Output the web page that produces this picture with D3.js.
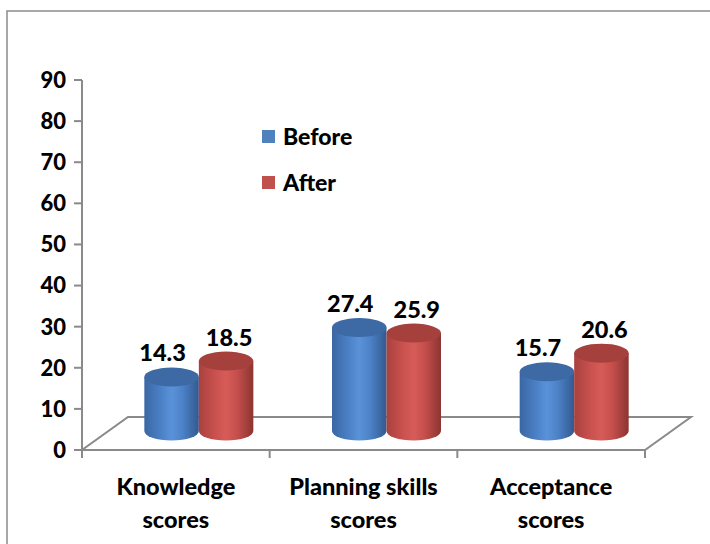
<!DOCTYPE html>
<html>
<head>
<meta charset="utf-8">
<script src="https://cdn.jsdelivr.net/npm/d3@7"></script>
<style>
  html, body { margin: 0; padding: 0; background: #fff; }
  svg { display: block; }
  text { font-family: Lato, "Open Sans", "Liberation Sans", sans-serif; font-weight: 900; fill: #000; }
</style>
</head>
<body>
<svg id="chart" width="710" height="544"></svg>
<script>
// ---- data ----
const categories = [["Knowledge", "scores"], ["Planning skills", "scores"], ["Acceptance", "scores"]];
const seriesNames = ["Before", "After"];
const beforeValues = [14.3, 27.4, 15.7];
const afterValues = [18.5, 25.9, 20.6];
const yTicks = [0, 10, 20, 30, 40, 50, 60, 70, 80, 90];

const seriesValues = [beforeValues, afterValues];
const colors = {
  Before: { stops: ["#3a67a3", "#4b80c6", "#5a92d9", "#4c82c7", "#33598f"], top: "#3d69a4", legend: "#4f81bd" },
  After:  { stops: ["#a9413e", "#c9514e", "#d65c58", "#c54f4c", "#8c3431"], top: "#a5403d", legend: "#c0504d" }
};

const svg = d3.select("#chart");
const defs = svg.append("defs");
seriesNames.forEach(s => {
  const g = defs.append("linearGradient").attr("id", "grad-" + s).attr("x1", "0%").attr("x2", "100%").attr("y1", "0%").attr("y2", "0%");
  const offs = [0, 0.3, 0.5, 0.7, 1];
  colors[s].stops.forEach((c, i) => g.append("stop").attr("offset", offs[i]).attr("stop-color", c));
});

// frame
svg.append("rect").attr("x", 7).attr("y", 11).attr("width", 740).attr("height", 580)
  .attr("fill", "none").attr("stroke", "#8c8c8c").attr("stroke-width", 1.5);

// scales
const x = d3.scaleBand().domain(d3.range(categories.length)).range([82, 645]).padding(0);
const y = d3.scaleLinear().domain([0, 90]).range([450, 80]);
const depthDx = 46, depthDy = -33;
// bars sit at mid depth, with perspective shortening
const yBar = d3.scaleLinear().domain([0, 90]).range([431, 431 - 90 * 3.78]);
const xInner = d3.scaleBand().domain(seriesNames).range([-54.5, 54.5]).padding(0);

const gridColor = "#8a8a8a";

// floor
const floor = [[x.range()[0], y(0)], [x.range()[1], y(0)], [x.range()[1] + depthDx, y(0) + depthDy], [x.range()[0] + depthDx, y(0) + depthDy]];
svg.append("path").attr("d", "M" + floor.map(p => p.join(",")).join("L") + "Z")
  .attr("fill", "#fff").attr("stroke", gridColor).attr("stroke-width", 2).attr("stroke-linejoin", "miter");

// y axis
svg.append("line").attr("x1", 82).attr("x2", 82).attr("y1", y(90)).attr("y2", y(0))
  .attr("stroke", gridColor).attr("stroke-width", 2);
const yAx = svg.append("g");
yTicks.forEach(t => {
  yAx.append("line").attr("x1", 74).attr("x2", 82).attr("y1", y(t)).attr("y2", y(t)).attr("stroke", gridColor).attr("stroke-width", 2);
  yAx.append("text").attr("x", 66).attr("y", y(t)).attr("dy", "0.36em").attr("text-anchor", "end")
    .attr("font-size", 22).text(t);
});

// x ticks
const bounds = x.domain().map(i => x(i)).concat([x.range()[1]]);
bounds.forEach(b => {
  svg.append("line").attr("x1", b).attr("x2", b).attr("y1", y(0)).attr("y2", y(0) + 8)
    .attr("stroke", gridColor).attr("stroke-width", 2);
});

// category labels
categories.forEach((lines, i) => {
  const t = svg.append("text").attr("text-anchor", "middle").attr("font-size", 23.5)
    .attr("x", x(i) + x.bandwidth() / 2).attr("y", 495);
  lines.forEach((ln, j) => t.append("tspan").attr("x", x(i) + x.bandwidth() / 2).attr("dy", j === 0 ? 0 : 33).text(ln));
});

// cylinders
const ry = 9.5;
const labelShift = { Before: -9, After: 3 };
seriesNames.forEach((s, si) => {
  seriesValues[si].forEach((v, i) => {
    const cx = x(i) + x.bandwidth() / 2 + depthDx / 2;
    const x0 = cx + xInner(s), x1 = x0 + xInner.bandwidth();
    const rx = (x1 - x0) / 2, mx = (x0 + x1) / 2;
    const yb = yBar(0), yt = yBar(v);
    svg.append("path")
      .attr("d", `M${x0},${yt} L${x0},${yb} A${rx},${ry} 0 0 0 ${x1},${yb} L${x1},${yt} Z`)
      .attr("fill", `url(#grad-${s})`);
    svg.append("ellipse").attr("cx", mx).attr("cy", yt).attr("rx", rx).attr("ry", ry)
      .attr("fill", colors[s].top);
    svg.append("text").attr("x", mx + labelShift[s]).attr("y", yt - ry - 6)
      .attr("text-anchor", "middle").attr("font-size", 23.5).text(v.toFixed(1));
  });
});

// legend
seriesNames.forEach((s, i) => {
  const ly = 130 + i * 46;
  svg.append("rect").attr("x", 262).attr("y", ly).attr("width", 13).attr("height", 13).attr("fill", colors[s].legend);
  svg.append("text").attr("x", 283).attr("y", ly + 15).attr("font-size", 23).text(s);
});
</script>
</body>
</html>
